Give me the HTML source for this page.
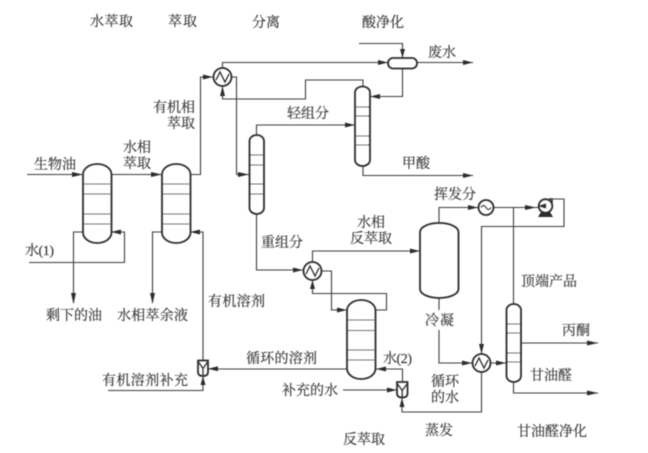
<!DOCTYPE html>
<html>
<head>
<meta charset="utf-8">
<style>
html,body{margin:0;padding:0;background:#fff;width:648px;height:453px;overflow:hidden}
svg{display:block;filter:blur(0.4px)}
text{font-family:"Liberation Serif","Noto Serif CJK SC",serif;font-size:14px;fill:#333;stroke:#333;stroke-width:.15}
.l{fill:none;stroke:#3c3c3c;stroke-width:1.1}
.v{fill:#fff;stroke:#2c2c2c;stroke-width:1.8}
.t{stroke:#333;stroke-width:.9;stroke-dasharray:1.4 .7;fill:none}
.a{fill:#2c2c2c;stroke:none}
</style>
</head>
<body>
<svg width="648" height="453" viewBox="0 0 648 453" xmlns="http://www.w3.org/2000/svg">
<rect width="648" height="453" fill="#fff"/>
<!-- connectors -->
<path class="l" d="M27 174.500H83M111 174.500H162M190 174.500H200.500V77H213"/>
<path class="l" d="M111 232H124.500V262.500H29M83 232H73.500V303M162 232H152.500V303"/>
<path class="l" d="M222.500 68V62.500H388M359 43.500H402.500V58M417 62.500H473"/>
<path class="l" d="M402.500 68V96.500H370M363 86V80H305.500V99H222.500V86"/>
<path class="l" d="M232 77H236.500V174.500H249M256.500 135V125H355M363 166V175.500H473"/>
<path class="l" d="M256.500 214V270H303M312.500 262V251H420M322 271H331.500V310H347"/>
<path class="l" d="M375 310H386.500V293.500H312.500V280"/>
<path class="l" d="M439 298V363H472M491 363H506"/>
<path class="l" d="M439 223V207.500H478M494 207.500H538M552 199H564V226.500H481.500V354M513.500 207.500V304"/>
<path class="l" d="M521 343H598M513.500 382V393H598"/>
<path class="l" d="M481.500 372V412H402V398M402.500 382V369H376M347 369H208M203 360V232H190M203 376V390.500H108M343 390H397"/>
<!-- arrowheads -->
<g class="a">
<path d="M83 174.500l-11-2.500v5zM162 174.500l-11-2.500v5zM213 77l-10-2.500v5z"/>
<path d="M111 232l10-2.500v5zM190 232l10-2.500v5z"/>
<path d="M73.500 304l-2.500-11h5zM152.500 304l-2.500-11h5z"/>
<path d="M388 62.500l-10-2.500v5zM402.500 58l-2.500-9h5zM473 62.500l-10-2.500v5zM473 175.500l-10-2.500v5z"/>
<path d="M370 96.500l10-2.500v5zM222.500 86l-2.500 10h5zM249 174.500l-11-2.500v5zM355 125l-10-2.500v5z"/>
<path d="M303 270l-10-2.500v5zM420 251l-10-2.500v5zM347 310l-10-2.500v5zM312.500 280l-2.500 9h5z"/>
<path d="M472 363l-10-2.500v5zM506 363l-10-2.500v5zM478 207.500l-10-2.500v5zM536 207.500l-11-2.500v5z"/>
<path d="M481.500 354l-2.500-10h5zM598 343l-11-2.500v5zM598 393l-11-2.500v5z"/>
<path d="M376 369l10-2.500v5zM397 390l-10-2.500v5zM402 398l-2.500 9h5zM208 368.700l10-2.500v5zM203 376l-2.500 9h5z"/>
</g>
<!-- large columns -->
<rect class="v" x="83" y="164" width="28.500" height="79" rx="14" ry="10.500"/>
<path class="t" d="M83 184H111M83 194H111M83 214H111M83 224H111"/>
<rect class="v" x="162" y="164" width="28.500" height="79" rx="14" ry="10.500"/>
<path class="t" d="M162 184H190M162 194H190M162 214H190M162 224H190"/>
<rect class="v" x="347" y="300" width="28.500" height="79" rx="14" ry="10.500"/>
<path class="t" d="M347 320H375M347 330.500H375M347 350H375M347 360H375"/>
<!-- slim columns -->
<rect class="v" x="355" y="86.500" width="15" height="79.500" rx="7.500" ry="6"/>
<path class="t" d="M355 107H370M355 116H370M355 136H370M355 145H370"/>
<rect class="v" x="249.500" y="135" width="14.500" height="79" rx="7.200" ry="6"/>
<path class="t" d="M250 155H264M250 165H264M250 184H264M250 194H264"/>
<rect class="v" x="506.500" y="304" width="14.500" height="78" rx="7.200" ry="6"/>
<path class="t" d="M507 324H521M507 333H521M507 353H521M507 362H521"/>
<!-- vessels -->
<rect class="v" x="420" y="223" width="38.500" height="75" rx="19" ry="9"/>
<rect class="v" x="388" y="58" width="29" height="10.500" rx="5"/>
<!-- heat exchangers -->
<g>
<circle class="v" cx="222.500" cy="77" r="9"/>
<path fill="none" stroke="#2c2c2c" stroke-width="1.300" d="M216 80L220 72L225 82L229 74"/>
<circle class="v" cx="312.500" cy="271" r="9"/>
<path fill="none" stroke="#2c2c2c" stroke-width="1.300" d="M306 274L310 266L315 276L319 268"/>
<circle class="v" cx="481.500" cy="363" r="9"/>
<path fill="none" stroke="#2c2c2c" stroke-width="1.300" d="M475 366L479 358L484 368L488 360"/>
<circle class="v" cx="486" cy="207.500" r="7.500"/>
<path fill="none" stroke="#2c2c2c" stroke-width="1" d="M481 207.500Q483.500 203.500 486 207.500T491 207.500"/>
</g>
<!-- pump -->
<path d="M538 217H553L550 212H541Z" fill="#2c2c2c"/>
<circle class="v" cx="545.500" cy="206" r="6.800"/>
<path class="a" d="M538 206l8-2.500v5z"/>
<path fill="none" stroke="#2c2c2c" stroke-width="1.500" d="M549 199H552V203"/>
<!-- mixers -->
<path class="v" d="M198 360.500H208V372Q208 376 203 376Q198 376 198 372Z"/>
<path fill="none" stroke="#2c2c2c" stroke-width="1.300" d="M198.500 362L203 368.500L207.500 362M203 368.500V375"/>
<path class="v" d="M397 382H407.500V393.500Q407.500 397.500 402.200 397.500Q397 397.500 397 393.500Z"/>
<path fill="none" stroke="#2c2c2c" stroke-width="1.300" d="M397.500 384L402.200 390.500L407 384M402.200 390.500V397"/>
<!-- gap behind text -->
<rect x="424" y="310" width="31" height="20" fill="#fff"/>
<!-- labels -->
<text x="90" y="26" textLength="43">水萃取</text>
<text x="168" y="26" textLength="29">萃取</text>
<text x="252" y="27" textLength="28">分离</text>
<text x="362" y="27" textLength="42">酸净化</text>
<text x="428" y="57" textLength="28">废水</text>
<text x="153" y="112" textLength="42">有机相</text>
<text x="167" y="128" textLength="28">萃取</text>
<text x="123" y="152" textLength="28">水相</text>
<text x="123" y="168" textLength="28">萃取</text>
<text x="34" y="169" textLength="42">生物油</text>
<text x="287" y="118" textLength="42">轻组分</text>
<text x="402" y="168" textLength="28">甲酸</text>
<text x="434" y="199" textLength="42">挥发分</text>
<text x="357" y="227" textLength="28">水相</text>
<text x="350" y="243" textLength="42">反萃取</text>
<text x="261" y="247" textLength="42">重组分</text>
<text x="25" y="255" textLength="29">水(1)</text>
<text x="46" y="320" textLength="56">剩下的油</text>
<text x="117" y="320" textLength="71">水相萃余液</text>
<text x="208" y="306" textLength="57">有机溶剂</text>
<text x="425" y="325" textLength="29">冷凝</text>
<text x="521" y="286" textLength="56">顶端产品</text>
<text x="562" y="335" textLength="28">丙酮</text>
<text x="530" y="380" textLength="42">甘油醛</text>
<text x="517" y="436" textLength="70">甘油醛净化</text>
<text x="246" y="363" textLength="71">循环的溶剂</text>
<text x="383" y="363" textLength="29">水(2)</text>
<text x="102" y="385" textLength="86">有机溶剂补充</text>
<text x="282" y="395" textLength="56">补充的水</text>
<text x="431" y="386" textLength="28">循环</text>
<text x="431" y="402" textLength="28">的水</text>
<text x="425" y="435" textLength="28">蒸发</text>
<text x="343" y="444" textLength="42">反萃取</text>
</svg>
</body>
</html>
